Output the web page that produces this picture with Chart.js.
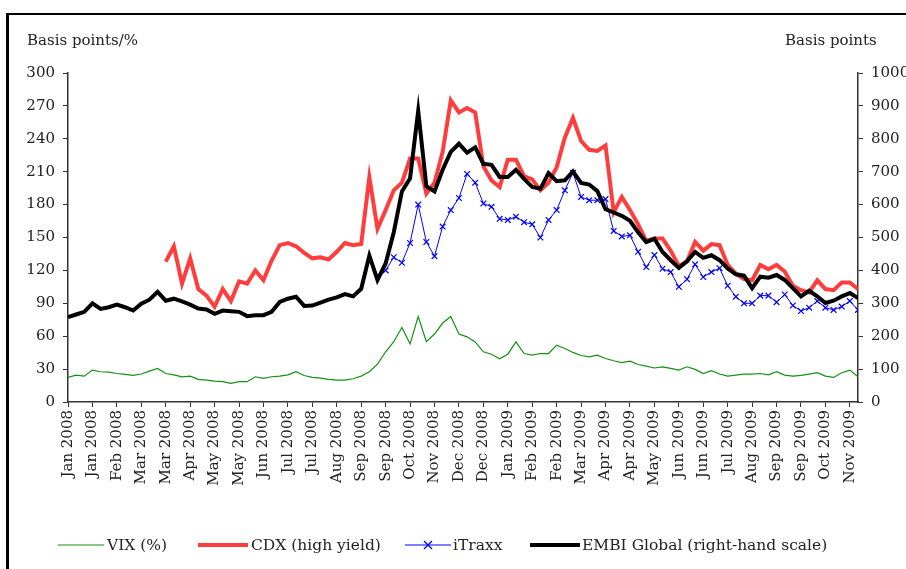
<!DOCTYPE html>
<html>
<head>
<meta charset="utf-8">
<script src="https://cdn.jsdelivr.net/npm/chart.js@4.4.1/dist/chart.umd.min.js"></script>
<style>
html,body{margin:0;padding:0;background:#fff;}
#wrap{position:relative;width:906px;height:569px;overflow:hidden;font-family:"DejaVu Serif",serif;color:#222;}
#frame{position:absolute;left:6px;top:13px;width:940px;height:600px;border-left:3px solid #000;border-top:2px solid #000;box-sizing:border-box;}
#c{position:absolute;left:0;top:0;}
.t{position:absolute;font-size:15px;white-space:nowrap;line-height:16px;}
.lg{position:absolute;top:537px;font-size:15.5px;white-space:nowrap;line-height:16px;}
.ic{position:absolute;top:537px;}
</style>
</head>
<body>
<div id="wrap">
  <div id="frame"></div>
  <canvas id="c" width="906" height="569"></canvas>
  <div class="t" style="left:27px;top:32px;">Basis points/%</div>
  <div class="t" style="left:785px;top:32px;">Basis points</div>

  <svg class="ic" style="left:58px;" width="46" height="16"><line x1="0" y1="8" x2="46" y2="8" stroke="#159015" stroke-width="1.2"/></svg>
  <div class="lg" style="left:107px;">VIX (%)</div>
  <svg class="ic" style="left:198px;" width="50" height="16"><line x1="0" y1="8" x2="50" y2="8" stroke="rgba(255,40,40,0.9)" stroke-width="4"/></svg>
  <div class="lg" style="left:251px;">CDX (high yield)</div>
  <svg class="ic" style="left:405px;" width="46" height="16"><line x1="0" y1="8" x2="46" y2="8" stroke="#0000ff" stroke-width="1.2"/><line x1="19" y1="4" x2="27" y2="12" stroke="#0000ff" stroke-width="1.2"/><line x1="27" y1="4" x2="19" y2="12" stroke="#0000ff" stroke-width="1.2"/></svg>
  <div class="lg" style="left:453px;">iTraxx</div>
  <svg class="ic" style="left:530px;" width="50" height="16"><line x1="0" y1="8" x2="50" y2="8" stroke="#000" stroke-width="4"/></svg>
  <div class="lg" style="left:582px;">EMBI Global (right-hand scale)</div>
</div>
<script>
// x-axis tick labels, one every 15 business days
const tickLabels = [
  "Jan 2008","Jan 2008","Feb 2008","Mar 2008","Mar 2008","Apr 2008","May 2008","May 2008",
  "Jun 2008","Jul 2008","Jul 2008","Aug 2008","Sep 2008","Sep 2008","Oct 2008","Nov 2008",
  "Dec 2008","Dec 2008","Jan 2009","Feb 2009","Feb 2009","Mar 2009","Apr 2009","Apr 2009",
  "May 2009","Jun 2009","Jun 2009","Jul 2009","Aug 2009","Sep 2009","Sep 2009","Oct 2009","Nov 2009"
];
const daysPerTick = 15;   // business days between tick labels
const daysPerSample = 5;  // weekly samples
const lastDay = 485;

// VIX (%), left scale, weekly from first week of Jan 2008
const vix = [
  22.4,24.5,23.6,29.1,27.6,27.3,26,25.2,24.2,25.5,28.2,30.6,26,24.8,23,23.6,20.6,20,19.1,18.5,17,18.5,18.5,23,
  21.5,23,23.6,24.8,27.6,24.2,22.4,21.8,20.6,20,20,21.2,23.6,27.6,34.5,45.8,55,68,53,78,55,62,72,78,62,
  59.4,54.8,45.8,43.6,39.4,43.6,54.8,44.2,42.7,44.2,44.2,51.8,48.8,45.2,42.4,41.2,42.7,39.7,37.6,36,37.3,34.2,32.7,31,
  32.1,30.6,29.1,32.1,29.7,26,28.5,25.5,23.6,24.5,25.5,25.5,26,24.8,27.6,24.5,23.6,24.2,25.5,26.7,23.6,22.4,26.7,29.1,23
];

// CDX high yield (bp), left scale, starts at week 12
const cdxStartWeek = 12;
const cdx = [
  128,142,108,131,103,97,87,103,92,110,108,120,
  111,129,143,145,142,136,131,132,130,137,145,143,144,205,158,175,193,200,222,222,190,200,228,275,264,
  268,264,215,202,196,221,221,206,203,193,200,214,241,259,238,230,229,234,173,187,175,162,147,149,
  149,138,124,128,146,138,144,143,125,117,112,111,125,121,125,119,106,102,100,111,103,102,109,109,103
];

// iTraxx (bp), left scale, starts at week 39
const itraxxStartWeek = 39;
const itraxx = [
  120,132,127,145,180,146,133,160,175,186,
  208,200,181,178,167,166,169,164,162,150,166,175,193,209,187,184,184,185,156,151,152,137,123,134,
  121.5,118.5,105,112,125.5,114,118.5,122,106,96,90,90,97,97,91,98,88,83,86,92,86,84,87,92,84
];

// EMBI Global (bp), right scale, weekly
const embi = [
  258,266,274,300,283,288,296,288,278,299,311,335,308,314,306,296,284,281,268,278,276,274,261,264,
  264,274,304,314,320,292,293,302,311,318,328,321,344,445,371,421,516,640,680,885,656,640,706,760,785,
  758,774,724,721,684,684,706,678,654,648,696,671,674,701,666,661,641,586,576,566,551,516,486,496,
  456,431,408,428,456,438,446,431,406,388,384,346,381,378,386,371,346,321,338,321,301,308,321,331,316
];

function pts(arr, startWeek) {
  return arr.map((v, i) => ({ x: Math.min((startWeek + i) * daysPerSample, lastDay), y: v }));
}

const axisColor = '#333';
const tickFont = { family: 'DejaVu Serif', size: 15 };

new Chart(document.getElementById('c'), {
  type: 'line',
  data: {
    datasets: [
      { label: 'EMBI Global (right-hand scale)', data: pts(embi, 0), yAxisID: 'y2',
        borderColor: '#000', borderWidth: 4, pointRadius: 0, order: 1 },
      { label: 'iTraxx', data: pts(itraxx, itraxxStartWeek), yAxisID: 'y',
        borderColor: '#0000ff', borderWidth: 1, pointStyle: 'crossRot', pointRadius: 4,
        pointBorderColor: '#0000ff', pointBorderWidth: 1.2, order: 2 },
      { label: 'CDX (high yield)', data: pts(cdx, cdxStartWeek), yAxisID: 'y',
        borderColor: 'rgba(255,40,40,0.9)', borderWidth: 4, pointRadius: 0, order: 3 },
      { label: 'VIX (%)', data: pts(vix, 0), yAxisID: 'y',
        borderColor: '#159015', borderWidth: 1.2, pointRadius: 0, order: 4 }
    ]
  },
  options: {
    responsive: false,
    animation: false,
    events: [],
    layout: { padding: { top: 73, left: 0, right: 0, bottom: 0 } },
    plugins: { legend: { display: false }, tooltip: { enabled: false } },
    elements: { line: { tension: 0 } },
    scales: {
      x: {
        type: 'linear', min: 0, max: lastDay,
        afterBuildTicks: s => { s.ticks = tickLabels.map((_, i) => ({ value: i * daysPerTick })); },
        afterFit: s => { s.height = 167; },
        ticks: {
          autoSkip: false, minRotation: 90, maxRotation: 90, padding: 3,
          color: '#222', font: tickFont,
          callback: v => tickLabels[Math.round(v / daysPerTick)]
        },
        grid: { display: true, drawOnChartArea: false, drawTicks: true, tickLength: 5, color: axisColor, lineWidth: 1 },
        border: { display: true, color: axisColor, width: 1.5 }
      },
      y: {
        position: 'left', min: 0, max: 300,
        afterFit: s => { s.width = 68; },
        ticks: { stepSize: 30, padding: 8, color: '#222', font: tickFont, callback: v => String(v) },
        grid: { display: true, drawOnChartArea: false, drawTicks: true, tickLength: 5, color: axisColor, lineWidth: 1 },
        border: { display: true, color: axisColor, width: 1.5 }
      },
      y2: {
        position: 'right', min: 0, max: 1000,
        afterFit: s => { s.width = 48; },
        ticks: { stepSize: 100, padding: 8, color: '#222', font: tickFont, callback: v => String(v) },
        grid: { display: true, drawOnChartArea: false, drawTicks: true, tickLength: 5, color: axisColor, lineWidth: 1 },
        border: { display: true, color: axisColor, width: 1.5 }
      }
    }
  }
});
</script>
</body>
</html>
